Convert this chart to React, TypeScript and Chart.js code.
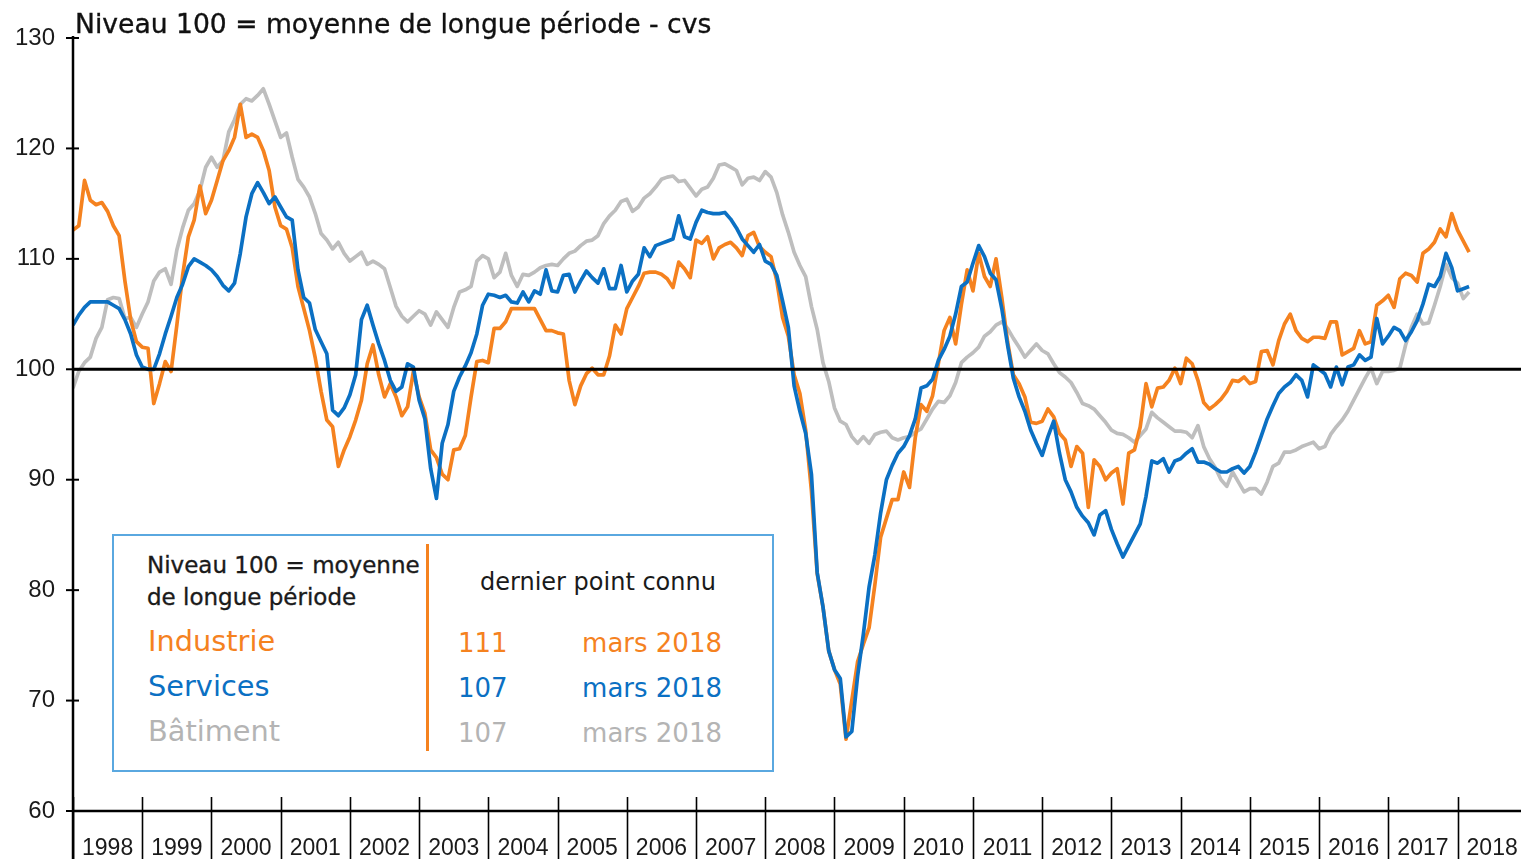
import React, { useEffect, useRef } from "react";
import { Chart, registerables } from "chart.js";

Chart.register(...registerables);

const YEARS = ["1998", "1999", "2000", "2001", "2002", "2003", "2004", "2005", "2006", "2007", "2008", "2009", "2010", "2011", "2012", "2013", "2014", "2015", "2016", "2017", "2018"];
const Y_TICKS = [60, 70, 80, 90, 100, 110, 120, 130];
const REFERENCE_LEVEL = 100;

// Monthly series, January 1998 to March 2018
const INDUSTRIE = [
  112.6, 113, 117.1, 115.3, 114.9, 115.1, 114.3, 113, 112.1, 108, 104.5, 102.5,
  102, 101.9, 96.9, 98.7, 100.7, 99.8, 104, 108.5, 112, 113.5, 116.6, 114.1,
  115.3, 117.1, 118.9, 119.8, 121, 124, 121, 121.3, 121, 119.8, 118, 114.7,
  113, 112.7, 111, 107.5, 105.5, 103.5, 101, 98, 95.4, 94.8, 91.2, 92.7,
  93.9, 95.4, 97.2, 100.5, 102.2, 99.5, 97.5, 98.7, 97.5, 95.8, 96.6, 99.8,
  97.5, 96, 92.7, 92, 90.5, 90, 92.7, 92.8, 94, 97.5, 100.7, 100.8,
  100.6, 103.7, 103.7, 104.3, 105.5, 105.5, 105.5, 105.5, 105.5, 104.5, 103.5, 103.5,
  103.3, 103.2, 99, 96.8, 98.5, 99.6, 100.1, 99.5, 99.5, 101.2, 104, 103.2,
  105.5, 106.5, 107.5, 108.7, 108.8, 108.8, 108.6, 108.2, 107.4, 109.7, 109.1, 108.3,
  111.7, 111.4, 112, 110, 111, 111.3, 111.5, 111, 110.3, 112.1, 112.4, 111.1,
  110.6, 110.2, 108, 104.7, 103, 99.5, 97.8, 94.5, 89, 81.5, 78.5, 74.5,
  72.8, 71.5, 66.5, 70, 73.5, 75.1, 76.6, 80.5, 84.8, 86.5, 88.2, 88.2,
  90.7, 89.3, 93.8, 96.8, 96.2, 97.6, 100.5, 103.5, 104.7, 102.3, 105.9, 109,
  107.1, 110.5, 108.4, 107.5, 110, 106.5, 102.5, 99.5, 98.7, 97.5, 95.2, 95.1,
  95.3, 96.4, 95.7, 94.2, 93.6, 91.2, 93, 92.4, 87.5, 91.8, 91.2, 90,
  90.6, 91, 87.8, 92.4, 92.7, 94.8, 98.7, 96.6, 98.3, 98.4, 99, 100.1,
  98.7, 101, 100.5, 99, 97, 96.4, 96.8, 97.3, 98, 99, 98.9, 99.3,
  98.7, 98.9, 101.6, 101.7, 100.4, 102.6, 104.1, 105, 103.5, 102.8, 102.5, 102.9,
  102.9, 102.8, 104.3, 104.3, 101.3, 101.6, 101.9, 103.5, 102.3, 102.5, 105.8, 106.2,
  106.7, 105.6, 108.2, 108.7, 108.5, 107.9, 110.5, 110.9, 111.5, 112.7, 112, 114.1,
  112.6, 111.6, 110.6,
];

const SERVICES = [
  104, 104.9, 105.6, 106.1, 106.1, 106.1, 106.1, 105.8, 105.5, 104.5, 103.2, 101.3,
  100.2, 100, 100, 101.4, 103.2, 104.8, 106.5, 107.7, 109.3, 110, 109.7, 109.4,
  109, 108.4, 107.6, 107.1, 107.8, 110.5, 113.8, 115.9, 116.9, 116, 115, 115.6,
  114.7, 113.8, 113.5, 109, 106.5, 106, 103.6, 102.5, 101.4, 96.3, 95.8, 96.5,
  97.7, 99.5, 104.5, 105.8, 104, 102.3, 100.8, 99, 98, 98.4, 100.5, 100.2,
  97.2, 95.5, 91, 88.3, 93.3, 95, 98, 99.3, 100.3, 101.5, 103.2, 105.8,
  106.8, 106.7, 106.5, 106.7, 106.1, 106, 107, 106.1, 107.1, 106.8, 109, 107.1,
  107, 108.5, 108.6, 107, 108, 108.9, 108.3, 107.8, 109.1, 107.3, 107.3, 109.4,
  107, 108, 108.6, 111, 110.2, 111.2, 111.4, 111.6, 111.8, 113.9, 112, 111.8,
  113.3, 114.4, 114.2, 114.1, 114.1, 114.2, 113.6, 112.8, 111.8, 111.2, 110.6, 111.3,
  109.8, 109.5, 108.5, 106.2, 103.8, 98.5, 96.2, 94.2, 90.5, 81.6, 78.5, 74.5,
  72.8, 72, 66.7, 67.2, 72.2, 76, 80.3, 83.2, 87, 90, 91.3, 92.4,
  93, 94, 95.5, 98.3, 98.5, 99.1, 100.8, 101.8, 103, 105, 107.5, 107.9,
  109.6, 111.2, 110.2, 108.7, 108.1, 105.5, 102.2, 99.2, 97.5, 96.2, 94.5, 93.3,
  92.2, 93.9, 95.3, 92.4, 90, 88.9, 87.5, 86.7, 86.1, 85, 86.8, 87.2,
  85.5, 84.2, 83, 84, 85, 86, 88.5, 91.7, 91.5, 91.9, 90.7, 91.7,
  91.9, 92.4, 92.8, 91.6, 91.6, 91.4, 91, 90.7, 90.7, 91, 91.2, 90.6,
  91.2, 92.5, 94, 95.5, 96.7, 97.8, 98.4, 98.8, 99.5, 99, 97.5, 100.4,
  100, 99.6, 98.4, 100.2, 98.6, 100.2, 100.4, 101.3, 100.8, 101.1, 104.6, 102.3,
  103, 103.8, 103.5, 102.6, 103.4, 104.4, 105.9, 107.7, 107.5, 108.4, 110.5, 109.2,
  107.1, 107.3, 107.5,
];

const BATIMENT = [
  98.3, 99.8, 100.6, 101.1, 102.8, 103.8, 106.3, 106.5, 106.4, 104.6, 104.7, 103.8,
  105, 106.1, 108, 108.8, 109.1, 107.7, 110.8, 112.8, 114.4, 115, 116.2, 118.3,
  119.2, 118.3, 118.9, 121.5, 122.6, 124, 124.5, 124.3, 124.8, 125.4, 124, 122.5,
  121, 121.4, 119.2, 117.2, 116.5, 115.6, 114.1, 112.3, 111.7, 110.9, 111.5, 110.5,
  109.8, 110.2, 110.6, 109.5, 109.8, 109.5, 109.1, 107.4, 105.7, 104.8, 104.3, 104.8,
  105.3, 105, 104, 105.2, 104.5, 103.8, 105.6, 107, 107.2, 107.5, 109.8, 110.3,
  110, 108.3, 108.8, 110.5, 108.5, 107.5, 108.6, 108.5, 108.8, 109.2, 109.4, 109.5,
  109.4, 110, 110.5, 110.7, 111.2, 111.6, 111.7, 112.1, 113.2, 113.9, 114.4, 115.2,
  115.4, 114.3, 114.7, 115.5, 115.9, 116.5, 117.2, 117.4, 117.5, 117, 117.1, 116.4,
  115.7, 116.3, 116.5, 117.3, 118.5, 118.6, 118.3, 118, 116.7, 117.3, 117.4, 117.1,
  117.9, 117.4, 116, 114, 112.4, 110.6, 109.4, 108.4, 105.7, 103.6, 100.6, 98.9,
  96.5, 95.3, 95, 93.9, 93.3, 93.9, 93.3, 94.1, 94.3, 94.4, 93.8, 93.6,
  93.8, 93.9, 94.3, 94.6, 95.5, 96.4, 97.1, 97, 97.6, 98.8, 100.6, 101.1,
  101.5, 102, 103, 103.4, 104, 104.3, 103.7, 102.8, 102, 101.1, 101.7, 102.3,
  101.7, 101.4, 100.5, 99.7, 99.3, 98.8, 97.9, 96.9, 96.7, 96.4, 95.8, 95.2,
  94.5, 94.2, 94.1, 93.8, 93.4, 94, 94.6, 96.1, 95.6, 95.2, 94.8, 94.4,
  94.4, 94.3, 93.8, 94.9, 93, 91.9, 91.1, 90, 89.4, 90.7, 89.8, 88.9,
  89.2, 89.2, 88.7, 89.8, 91.2, 91.5, 92.5, 92.5, 92.7, 93, 93.2, 93.4,
  92.8, 93, 94.1, 94.8, 95.4, 96.2, 97.2, 98.2, 99.2, 100.1, 98.7, 99.8,
  99.8, 99.9, 100.1, 102.2, 103.8, 105, 104.1, 104.2, 105.8, 107.5, 109.5, 108.3,
  107.8, 106.4, 107,
];

const ORANGE = "#F5821F";
const BLUE = "#0B70C3";
const GRAY = "#BEBEBE";
const GRAY_TEXT = "#B4B4B4";

const TITLE = "Niveau 100 = moyenne de longue période - cvs";
const LEGEND_HEADER = ["Niveau 100 = moyenne", "de longue période"];
const LEGEND_COLUMN = "dernier point connu";
const LEGEND_NAMES = ["Industrie", "Services", "Bâtiment"];
const LEGEND_VALUES = ["111", "107", "107"];
const LEGEND_DATES = ["mars 2018", "mars 2018", "mars 2018"];
const LEGEND_COLORS = [ORANGE, BLUE, GRAY_TEXT];

const TEXT_FONT = '"DejaVu Sans", "Noto Sans", sans-serif';
const AXIS_FONT = '"Liberation Sans", Arial, sans-serif';

const toPoints = (arr: number[]) => arr.map((v, i) => ({ x: i, y: v }));

const framePlugin = {
  id: "frame",
  afterDatasetsDraw(chart: any) {
    const { ctx, chartArea, scales } = chart;
    const xs = scales.x;
    const ys = scales.y;
    ctx.save();
    ctx.strokeStyle = "#000";
    // reference level line
    ctx.lineWidth = 3;
    const y100 = ys.getPixelForValue(REFERENCE_LEVEL);
    ctx.beginPath();
    ctx.moveTo(chartArea.left, y100);
    ctx.lineTo(chartArea.right, y100);
    ctx.stroke();
    // x axis
    ctx.lineWidth = 2.5;
    ctx.beginPath();
    ctx.moveTo(chartArea.left, chartArea.bottom);
    ctx.lineTo(chartArea.right, chartArea.bottom);
    ctx.stroke();
    // y axis
    ctx.beginPath();
    ctx.moveTo(chartArea.left, chartArea.top - 2);
    ctx.lineTo(chartArea.left, chart.height);
    ctx.stroke();
    // y ticks
    ctx.lineWidth = 2;
    Y_TICKS.forEach((v) => {
      const py = ys.getPixelForValue(v);
      ctx.beginPath();
      ctx.moveTo(chartArea.left - 7, py);
      ctx.lineTo(chartArea.left + 6, py);
      ctx.stroke();
    });
    // year separators
    ctx.lineWidth = 1.6;
    YEARS.forEach((_, i) => {
      const px = Math.round(xs.getPixelForValue(i * 12)) + 0.5;
      ctx.beginPath();
      ctx.moveTo(px, chartArea.bottom - 14);
      ctx.lineTo(px, chart.height);
      ctx.stroke();
    });
    ctx.restore();
  },
};

function abs(left: number, top: number, size: number, color: string, extra: any = {}) {
  return {
    position: "absolute" as const,
    left,
    top,
    fontSize: size,
    lineHeight: `${size}px`,
    fontFamily: TEXT_FONT,
    color,
    whiteSpace: "nowrap" as const,
    ...extra,
  };
}

const zeroPad = (s: any) => {
  s.paddingLeft = 0;
  s.paddingRight = 0;
  s.paddingTop = 0;
  s.paddingBottom = 0;
};

export default function App() {
  const canvasRef = useRef<HTMLCanvasElement | null>(null);

  useEffect(() => {
    if (!canvasRef.current) return;
    const chart = new Chart(canvasRef.current, {
      type: "line",
      data: {
        datasets: [
          { label: "Services", data: toPoints(SERVICES), borderColor: BLUE, order: 1 },
          { label: "Industrie", data: toPoints(INDUSTRIE), borderColor: ORANGE, order: 2 },
          { label: "Bâtiment", data: toPoints(BATIMENT), borderColor: GRAY, order: 3 },
        ].map((d) => ({
          ...d,
          borderWidth: 3.7,
          pointRadius: 0,
          tension: 0,
          fill: false,
          borderJoinStyle: "round" as const,
        })),
      },
      options: {
        animation: false,
        responsive: false,
        devicePixelRatio: 1,
        layout: { padding: { top: 38, right: 6, left: 0, bottom: 0 } },
        plugins: { legend: { display: false }, tooltip: { enabled: false }, title: { display: false } },
        scales: {
          x: {
            type: "linear",
            min: 0,
            max: 251,
            grid: { display: false, drawTicks: false },
            border: { display: false },
            afterFit: (s: any) => {
              s.height = 48;
              zeroPad(s);
            },
            afterBuildTicks: (s: any) => {
              s.ticks = YEARS.map((_, i) => ({ value: i * 12 + 6 }));
            },
            ticks: {
              autoSkip: false,
              maxRotation: 0,
              minRotation: 0,
              padding: 24,
              color: "#1a1a1a",
              font: { family: AXIS_FONT, size: 23 },
              callback: (v: any) => YEARS[Math.round((Number(v) - 6) / 12)],
            },
          },
          y: {
            min: 60,
            max: 130,
            grid: { display: false, drawTicks: false },
            border: { display: false },
            afterFit: (s: any) => {
              s.width = 73;
              zeroPad(s);
            },
            ticks: {
              stepSize: 10,
              padding: 18,
              color: "#1a1a1a",
              font: { family: AXIS_FONT, size: 24 },
            },
          },
        },
      },
      plugins: [framePlugin],
    } as any);
    return () => chart.destroy();
  }, []);

  const heavy = { WebkitTextStroke: "0.35px currentColor" };

  return (
    <div style={{ position: "absolute", left: 0, top: 0, width: 1527, height: 859, background: "#fff", overflow: "hidden" }}>
      <canvas ref={canvasRef} width={1527} height={859} style={{ position: "absolute", left: 0, top: 0, width: 1527, height: 859 }} />
      <div style={abs(75, 11, 26.6, "#111", heavy)}>{TITLE}</div>
      <div
        style={{
          position: "absolute",
          left: 112,
          top: 534,
          width: 662,
          height: 238,
          boxSizing: "border-box",
          border: "2px solid #5AA8E0",
          background: "#fff",
        }}
      />
      <div style={abs(147, 553.5, 23, "#1a1a1a", heavy)}>{LEGEND_HEADER[0]}</div>
      <div style={abs(147, 585.5, 23, "#1a1a1a", heavy)}>{LEGEND_HEADER[1]}</div>
      <div style={{ position: "absolute", left: 426, top: 544, width: 3, height: 207, background: ORANGE }} />
      <div style={abs(480, 570, 24, "#1a1a1a")}>{LEGEND_COLUMN}</div>
      {LEGEND_NAMES.map((name, i) => (
        <React.Fragment key={name}>
          <div style={abs(148, 627 + i * 45, 28.8, LEGEND_COLORS[i])}>{name}</div>
          <div style={abs(458, 630 + i * 45, 26, LEGEND_COLORS[i])}>{LEGEND_VALUES[i]}</div>
          <div style={{ ...abs(0, 630 + i * 45, 26, LEGEND_COLORS[i]), left: undefined, right: 1527 - 722 }}>{LEGEND_DATES[i]}</div>
        </React.Fragment>
      ))}
    </div>
  );
}
